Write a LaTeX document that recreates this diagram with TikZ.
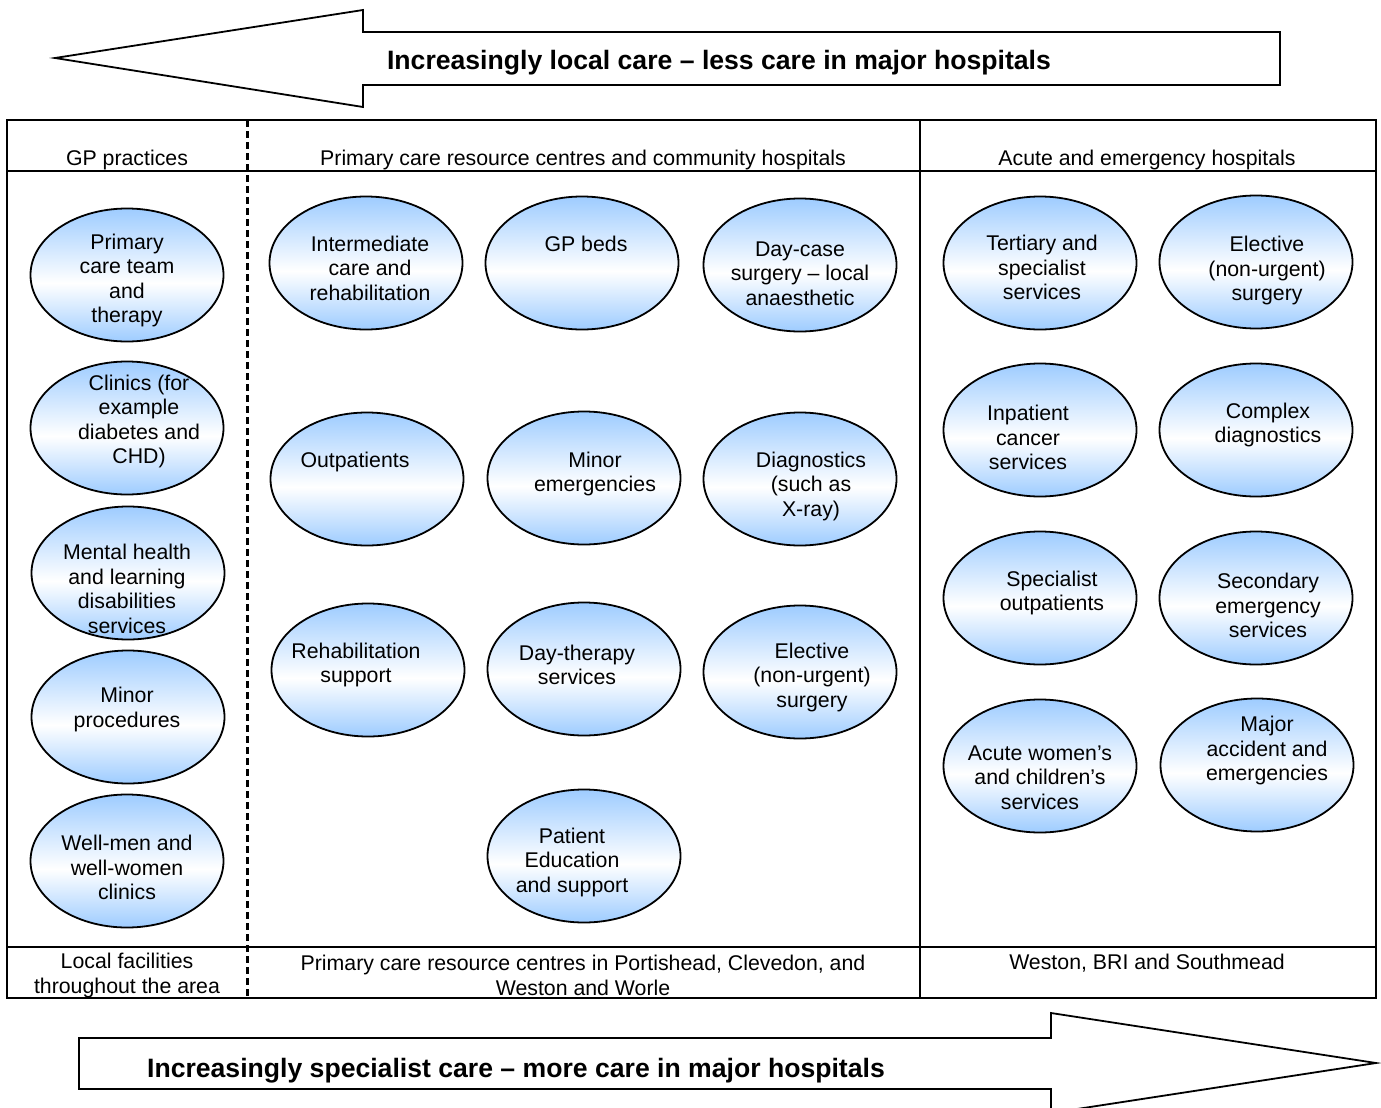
\documentclass[tikz,border=0pt]{standalone}
\usepackage{fontspec}
\setmainfont{Liberation Sans}
\usetikzlibrary{shapes.geometric}
\definecolor{ellblue}{RGB}{158,204,255}
\pgfdeclareverticalshading{ellsh}{100bp}{color(0bp)=(ellblue); color(25bp)=(ellblue); color(47bp)=(white); color(75bp)=(ellblue); color(100bp)=(ellblue)}
\tikzset{
  ell/.style={ellipse, draw=black, line width=1.8pt, shading=ellsh, minimum width=193pt, minimum height=133pt, inner sep=0pt},
  txt/.style={inner sep=0pt, align=center, yshift=-2pt, font=\fontsize{21.3pt}{24.5pt}\selectfont},
  bigtxt/.style={inner sep=0pt, align=center, yshift=-3pt, font=\fontsize{26.6pt}{30pt}\selectfont\bfseries},
  frame/.style={line width=1.8pt},
  arrowshape/.style={line width=1.8pt, fill=white}
}
\begin{document}
\begin{tikzpicture}[x=1pt,y=-1pt]
\useasboundingbox (0,0) rectangle (1381,1108);
% arrows
\draw[arrowshape] (55,58) -- (363,10) -- (363,32) -- (1280,32) -- (1280,85) -- (363,85) -- (363,107) -- cycle;
\node[bigtxt] (toptext) at (719,60) {Increasingly local care – less care in major hospitals};
\draw[arrowshape] (79,1038) -- (1051,1038) -- (1051,1013) -- (1376,1063) -- (1051,1113) -- (1051,1089) -- (79,1089) -- cycle;
\node[bigtxt] (bottext) at (516,1068) {Increasingly specialist care – more care in major hospitals};
% table
\draw[frame] (7,120) rectangle (1376,998);
\draw[frame] (7,171) -- (1376,171);
\draw[frame] (7,947) -- (1376,947);
\draw[frame] (920,120) -- (920,998);
\draw[line width=3pt, dash pattern=on 7pt off 4pt] (247,120) -- (247,998);
% headers
\node[txt] (h1) at (127,158) {GP practices};
\node[txt] (h2) at (583,158) {Primary care resource centres and community hospitals};
\node[txt] (h3) at (1147,158) {Acute and emergency hospitals};
\node[txt] (f1) at (127,973.5) {Local facilities\\throughout the area};
\node[txt] (f2) at (583,973.5) {Primary care resource centres in Portishead, Clevedon, and\\Weston and Worle};
\node[txt] (f3) at (1147,961) {Weston, BRI and Southmead};
% column 1
\node[ell] (e1) at (127,275) {};
\node[txt] (t1) at (127,278.5) {Primary\\care team\\and\\therapy};
\node[ell] (e2) at (127,428) {};
\node[txt] (t2) at (139,419.5) {Clinics (for\\example\\diabetes and\\CHD)};
\node[ell] (e3) at (128,573) {};
\node[txt] (t3) at (127,587) {Mental health\\and learning\\disabilities\\services};
\node[ell] (e4) at (128,717) {};
\node[txt] (t4) at (127,707.5) {Minor\\procedures};
\node[ell] (e5) at (127,861) {};
\node[txt] (t5) at (127,865.5) {Well-men and\\well-women\\clinics};
% column 2
\node[ell] (e6) at (366,263) {};
\node[txt] (t6) at (370,266) {Intermediate\\care and\\rehabilitation};
\node[ell] (e7) at (582,263) {};
\node[txt] (t7) at (586,242) {GP beds};
\node[ell] (e8) at (800,265) {};
\node[txt] (t8) at (800,271.5) {Day-case\\surgery – local\\anaesthetic};
\node[ell] (e9) at (367,479) {};
\node[txt] (t9) at (355,460) {Outpatients};
\node[ell] (e10) at (584,478) {};
\node[txt] (t10) at (595,472) {Minor\\emergencies};
\node[ell] (e11) at (800,479) {};
\node[txt] (t11) at (811,484) {Diagnostics\\(such as\\X-ray)};
\node[ell] (e12) at (368,670) {};
\node[txt] (t12) at (356,663) {Rehabilitation\\support};
\node[ell] (e13) at (584,669) {};
\node[txt] (t13) at (577,663) {Day-therapy\\services};
\node[ell] (e14) at (800,672) {};
\node[txt] (t14) at (812,675) {Elective\\(non-urgent)\\surgery};
\node[ell] (e15) at (584,856) {};
\node[txt] (t15) at (572,860) {Patient\\Education\\and support};
% column 3
\node[ell] (e16) at (1040,263) {};
\node[txt] (t16) at (1042,265.5) {Tertiary and\\specialist\\services};
\node[ell] (e17) at (1256,262) {};
\node[txt] (t17) at (1267,268.5) {Elective\\(non-urgent)\\surgery};
\node[ell] (e18) at (1040,430) {};
\node[txt] (t18) at (1028,435.5) {Inpatient\\cancer\\services};
\node[ell] (e19) at (1256,430) {};
\node[txt] (t19) at (1268,423) {Complex\\diagnostics};
\node[ell] (e20) at (1040,598) {};
\node[txt] (t20) at (1052,591) {Specialist\\outpatients};
\node[ell] (e21) at (1256,598) {};
\node[txt] (t21) at (1268,603.5) {Secondary\\emergency\\services};
\node[ell] (e22) at (1040,766) {};
\node[txt] (t22) at (1040,775.5) {Acute women’s\\and children’s\\services};
\node[ell] (e23) at (1257,765) {};
\node[txt] (t23) at (1267,748.5) {Major\\accident and\\emergencies};
\end{tikzpicture}
\end{document}
